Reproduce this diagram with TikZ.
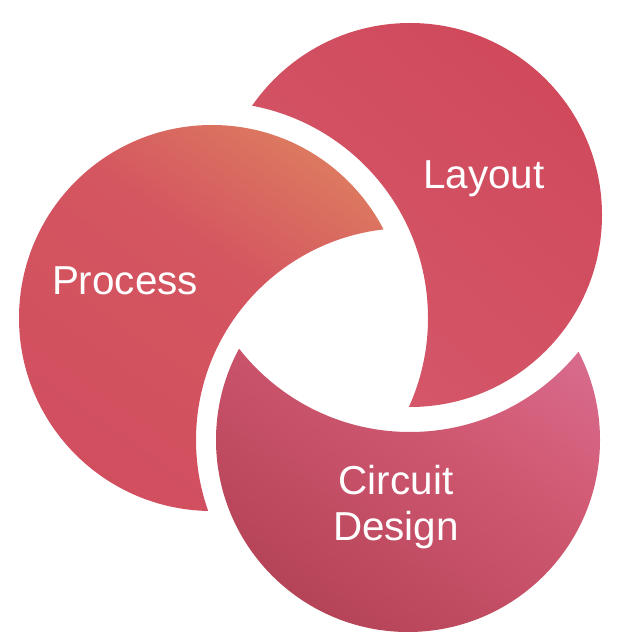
\documentclass[tikz,border=0pt]{standalone}
\usepackage{fontspec}
\setmainfont{Liberation Sans}
\begin{document}
\begin{tikzpicture}[x=0.02cm,y=-0.02cm,
  lbl/.style={text=white,font=\fontsize{23}{28}\selectfont,align=center}]
\useasboundingbox (0,0) rectangle (640,641);
% Process: circle (212,318) r193, bite around (408,440) r212
\begin{scope}
  \clip (212,318) circle (193);
  \shade[even odd rule, top color={rgb,255:red,232;green,168;blue,96}, bottom color={rgb,255:red,208;green,76;blue,94},
        middle color={rgb,255:red,212;green,86;blue,96}, shading angle=-35]
    (0,0) rectangle (640,641) (408,440) circle (212);
\end{scope}
% Layout: circle (410,215) r192, bite around (212,318) r216
\begin{scope}
  \clip (410,215) circle (192);
  \shade[even odd rule, top color={rgb,255:red,208;green,74;blue,92}, bottom color={rgb,255:red,236;green,166;blue,174},
        middle color={rgb,255:red,212;green,86;blue,104}, shading angle=-40]
    (0,0) rectangle (640,641) (212,318) circle (216);
\end{scope}
% Circuit: circle (408,440) r192, bite around (410,215) r217
\begin{scope}
  \clip (408,440) circle (192);
  \shade[even odd rule, top color={rgb,255:red,226;green,136;blue,182}, bottom color={rgb,255:red,172;green,60;blue,78},
        middle color={rgb,255:red,210;green,90;blue,116}, shading angle=-35]
    (0,0) rectangle (640,641) (410,215) circle (217);
\end{scope}
\node[lbl] (p) at (125,281) {Process};
\node[lbl] (l) at (484,179) {Layout};
\node[lbl] (c) at (396,507) {Circuit\\[-2pt]Design};
\end{tikzpicture}
\end{document}
